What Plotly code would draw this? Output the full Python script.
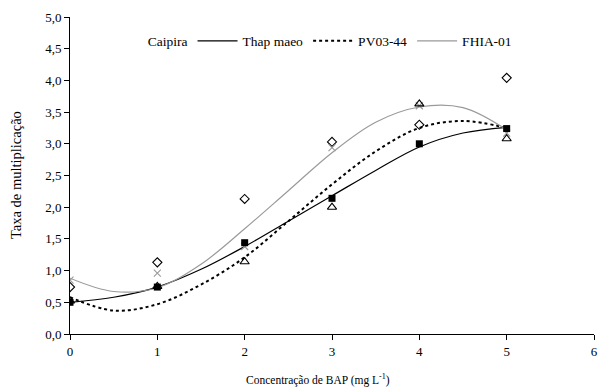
import plotly.graph_objects as go

# Measured points
x_pts = [0, 1, 2, 3, 4, 5]
caipira = [0.74, 1.13, 2.13, 3.03, 3.30, 4.04]
thap_maeo = [0.50, 0.74, 1.44, 2.14, 3.00, 3.24]
pv03_44 = [0.52, 0.75, 1.14, 2.00, 3.63, 3.08]
fhia_01 = [0.85, 0.96, 1.38, 2.94, 3.60, 3.17]

# Trend curves
x_curve = [0, 0.5, 1, 1.5, 2, 2.5, 3, 3.5, 4, 4.5, 5]
thap_curve = [0.50, 0.58, 0.74, 1.02, 1.38, 1.78, 2.18, 2.58, 2.95, 3.17, 3.26]
pv_curve = [0.58, 0.37, 0.47, 0.78, 1.21, 1.78, 2.36, 2.88, 3.25, 3.36, 3.25]
fhia_curve = [0.88, 0.67, 0.73, 1.10, 1.66, 2.26, 2.86, 3.34, 3.58, 3.57, 3.22]

GRAY = "#9a9a9a"
FONT = "Times New Roman, Liberation Serif, serif"

fig = go.Figure()

# legend-only entry for Caipira (no symbol in the original legend)
fig.add_trace(go.Scatter(x=[None], y=[None], mode="lines", name="Caipira",
                         line=dict(width=0, color="rgba(0,0,0,0)")))

fig.add_trace(go.Scatter(x=x_curve, y=thap_curve, mode="lines", name="Thap maeo",
                         line=dict(color="black", width=1.2, shape="spline")))
fig.add_trace(go.Scatter(x=x_curve, y=pv_curve, mode="lines", name="PV03-44",
                         line=dict(color="black", width=2, dash="3px,3px", shape="spline")))
fig.add_trace(go.Scatter(x=x_curve, y=fhia_curve, mode="lines", name="FHIA-01",
                         line=dict(color=GRAY, width=1.2, shape="spline")))

fig.add_trace(go.Scatter(x=x_pts, y=caipira, mode="markers", showlegend=False,
                         marker=dict(symbol="diamond-open", size=7, color="black",
                                     line=dict(width=1.1, color="black"))))
fig.add_trace(go.Scatter(x=x_pts, y=fhia_01, mode="markers", showlegend=False,
                         marker=dict(symbol="x-thin-open", size=7, color=GRAY,
                                     line=dict(width=1.1, color=GRAY))))
fig.add_trace(go.Scatter(x=x_pts, y=pv03_44, mode="markers", showlegend=False,
                         marker=dict(symbol="triangle-up-open", size=8, color="black",
                                     line=dict(width=1.1, color="black"))))
fig.add_trace(go.Scatter(x=x_pts, y=thap_maeo, mode="markers", showlegend=False,
                         marker=dict(symbol="square", size=7, color="black")))

fig.update_layout(
    width=608, height=387,
    margin=dict(l=70, r=10, t=17, b=53),
    paper_bgcolor="white", plot_bgcolor="white",
    separators=",.",
    font=dict(family=FONT, size=11, color="black"),
    showlegend=True,
    legend=dict(orientation="h", x=0.053, y=0.924, xanchor="left", yanchor="middle",
                bgcolor="rgba(0,0,0,0)", font=dict(family=FONT, size=13.5),
                itemwidth=40, tracegroupgap=0),
    xaxis=dict(range=[0, 6], dtick=1, tick0=0, showgrid=False, zeroline=False,
               showline=True, linecolor="black", linewidth=1,
               ticks="outside", ticklen=5, tickcolor="black",
               tickfont=dict(family=FONT, size=13)),
    yaxis=dict(range=[0, 5], dtick=0.5, tick0=0, tickformat=".1f", showgrid=False,
               zeroline=False, showline=True, linecolor="black", linewidth=1,
               ticks="outside", ticklen=5, tickcolor="black",
               tickfont=dict(family=FONT, size=13)),
    annotations=[
        dict(text="Concentração de BAP (mg L<sup>-1</sup>)", x=0.473, y=-0.145,
             xref="paper", yref="paper", xanchor="center", yanchor="middle",
             showarrow=False, font=dict(family=FONT, size=11.5)),
        dict(text="Taxa de multiplicação", x=-0.104, y=0.5, textangle=-90,
             xref="paper", yref="paper", xanchor="center", yanchor="middle",
             showarrow=False, font=dict(family=FONT, size=14.5)),
    ],
)

fig.write_html("out.html")
